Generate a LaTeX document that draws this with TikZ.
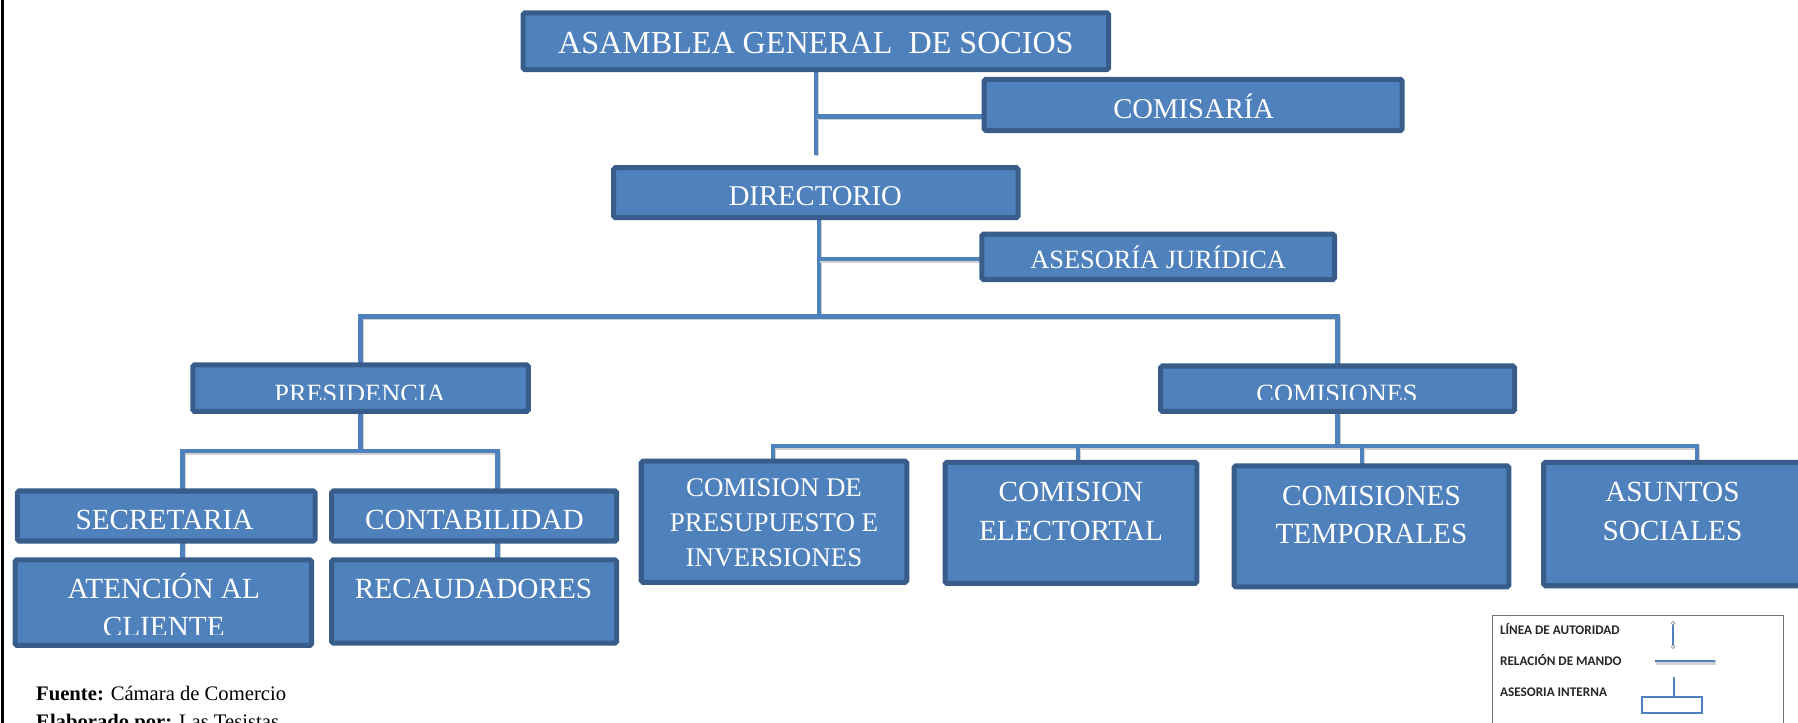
\documentclass[tikz,border=0pt]{standalone}
\usepackage{fontspec}
\setmainfont{Liberation Serif}
\newfontfamily\legfont{Carlito}
\usetikzlibrary{calc}
\definecolor{boxfill}{HTML}{4F81BD}
\definecolor{boxline}{HTML}{385D8A}
\definecolor{linkblue}{HTML}{4F81BD}
\pgfdeclarelayer{bg}
\pgfsetlayers{bg,main}
\begin{document}
\begin{tikzpicture}[x=1pt,y=-1pt,
  orgbox/.style={draw=boxline, fill=boxfill, line width=4.4pt, rounded corners=1.5pt, inner sep=0pt, outer sep=0pt},
  lbl/.style={text=white, inner sep=0pt, anchor=base, font=\fontsize{25.5}{28}\selectfont},
  link/.style={draw=linkblue, line width=3.8pt, preaction={draw=black!18, line width=3.8pt, transform canvas={xshift=0.9pt,yshift=-1.3pt}}},
  legtext/.style={anchor=base west, inner sep=0pt, text=black!85, font=\legfont\bfseries\fontsize{11.5}{13}\selectfont},
  foot/.style={anchor=base west, inner sep=0pt, font=\fontsize{18}{20}\selectfont}]
\useasboundingbox (0,0) rectangle (1568,630.5);

% left border
\draw[line width=2.2pt] (2.3,0) -- (2.3,630.5);

% boxes
\node[orgbox, minimum width=510.6pt, minimum height=49.6pt] (asamblea) at (711.5,36) {};
\node[orgbox, minimum width=364.6pt, minimum height=44.6pt] (comisaria) at (1040.5,91.5) {};
\node[orgbox, minimum width=352.6pt, minimum height=43.6pt] (directorio) at (711.5,168) {};
\node[orgbox, minimum width=307.6pt, minimum height=39.6pt] (asesoria) at (1010,224) {};
\node[orgbox, minimum width=292.6pt, minimum height=40.6pt] (presidencia) at (314.5,338.5) {};
\node[orgbox, minimum width=308.6pt, minimum height=39.6pt] (comisiones) at (1166.5,339) {};
\node[orgbox, minimum width=259.6pt, minimum height=43.6pt] (secretaria) at (145,450) {};
\node[orgbox, minimum width=248.6pt, minimum height=43.6pt] (contabilidad) at (413.5,450) {};
\node[orgbox, minimum width=258.6pt, minimum height=74.6pt] (atencion) at (142.5,525.5) {};
\node[orgbox, minimum width=248.6pt, minimum height=72.6pt] (recaudadores) at (413.5,524.5) {};
\node[orgbox, minimum width=231.6pt, minimum height=105.6pt] (presupuesto) at (675,455) {};
\node[orgbox, minimum width=219.6pt, minimum height=105.6pt] (electoral) at (934,456) {};
\node[orgbox, minimum width=239.6pt, minimum height=105.6pt] (temporales) at (1196,459) {};
\node[orgbox, minimum width=224.6pt, minimum height=107.6pt] (asuntos) at (1458.5,457) {};

% texts
\node[lbl, font=\fontsize{28}{30}\selectfont] (t-asamblea) at (711.5,46.5) {ASAMBLEA GENERAL~~DE SOCIOS};
\node[lbl, font=\fontsize{25}{28}\selectfont] (t-comisaria) at (1041,103) {COMISARÍA};
\node[lbl, font=\fontsize{25}{28}\selectfont] (t-directorio) at (711,179) {DIRECTORIO};
\node[lbl, font=\fontsize{23}{26}\selectfont] (t-asesoria) at (1010,234) {ASESORÍA JURÍDICA};
\begin{scope}
  \clip (166,300) rectangle (463,348.5);
  \node[lbl, font=\fontsize{23}{26}\selectfont] (t-presidencia) at (314,351) {PRESIDENCIA};
\end{scope}
\begin{scope}
  \clip (1010,300) rectangle (1323,348.5);
  \node[lbl, font=\fontsize{23}{26}\selectfont] (t-comisiones) at (1166,351) {COMISIONES};
\end{scope}
\node[lbl] (t-secretaria) at (143.5,462) {SECRETARIA};
\node[lbl] (t-contabilidad) at (413.7,462) {CONTABILIDAD};
\begin{scope}
  \clip (11,480) rectangle (274,553);
  \node[lbl] (t-atencion1) at (142.8,522) {ATENCIÓN AL};
  \node[lbl] (t-atencion2) at (142.8,555) {CLIENTE};
\end{scope}
\node[lbl] (t-recaudadores) at (413,522) {RECAUDADORES};
\node[lbl, font=\fontsize{23.5}{26}\selectfont] (t-presupuesto1) at (675,433) {COMISION DE};
\node[lbl, font=\fontsize{23.5}{26}\selectfont] (t-presupuesto2) at (675,463.7) {PRESUPUESTO E};
\node[lbl, font=\fontsize{23.5}{26}\selectfont] (t-presupuesto3) at (675,494) {INVERSIONES};
\node[lbl] (t-electoral1) at (934,437.5) {COMISION};
\node[lbl] (t-electoral2) at (934,471) {ELECTORTAL};
\node[lbl] (t-temporales1) at (1196,440.4) {COMISIONES};
\node[lbl] (t-temporales2) at (1196,473.6) {TEMPORALES};
\node[lbl] (t-asuntos1) at (1458.5,437.5) {ASUNTOS};
\node[lbl] (t-asuntos2) at (1458.5,471) {SOCIALES};

% connectors
\begin{pgfonlayer}{bg}
  \coordinate (j1) at (711.5,101.5);
  \coordinate (g1) at (711.5,135);
  \draw[link] (asamblea.south) -- (g1);
  \draw[link] (j1) -- (j1 -| comisaria.west);
  \coordinate (d1) at ($(directorio.south)+(2.5,0)$);
  \coordinate (j2) at (714,226);
  \coordinate (j3) at (714,276);
  \draw[link] (d1) -- (j3);
  \draw[link] (j2) -- (j2 -| asesoria.west);
  \draw[link] (presidencia.north) |- (j3) -| (comisiones.north);
  \coordinate (b2l) at (159,393.5);
  \coordinate (b2r) at (434,393.5);
  \draw[link] (presidencia.south) -- (presidencia.south |- b2l);
  \draw[link] (b2l |- secretaria.north) -- (b2l) -- (b2r) -- (b2r |- contabilidad.north);
  \draw[link] (b2l |- secretaria.south) -- (b2l |- atencion.north);
  \draw[link] (b2r |- contabilidad.south) -- (b2r |- recaudadores.north);
  \coordinate (c1) at (674,389);
  \coordinate (c2) at (940,389);
  \coordinate (c3) at (1188,389);
  \coordinate (c4) at (1480,389);
  \draw[link] (comisiones.south) -- (comisiones.south |- c1);
  \draw[link] (c1 |- presupuesto.north) -- (c1) -- (c4) -- (c4 |- asuntos.north);
  \draw[link] (c2) -- (c2 |- electoral.north);
  \draw[link] (c3) -- (c3 |- temporales.north);
\end{pgfonlayer}

% legend
\draw[black!55, line width=0.8pt] (1301.7,537) rectangle (1555,650);
\node[legtext] (l-autoridad) at (1308,553) {LÍNEA DE AUTORIDAD};
\node[legtext] (l-mando) at (1308,580.5) {RELACIÓN DE MANDO};
\node[legtext] (l-asesoria) at (1308,607) {ASESORIA INTERNA};
\draw[linkblue, line width=1.6pt] (1459,543.5) -- (1459,564);
\draw[black!45, fill=white, line width=0.5pt] (1459,543.5) circle (1.6pt) (1459,564) circle (1.6pt);
\draw[link, line width=1.8pt, preaction={draw=black!18, line width=1.8pt, transform canvas={yshift=-0.9pt}}] (1443,576.5) -- (1496,576.5);
\draw[linkblue, line width=1.8pt] (1460,590) -- (1460,607.5);
\draw[linkblue, line width=1.8pt, fill=white] (1431.6,607.5) rectangle (1484.5,621.5);

% footer
\node[foot] (f-fuente) at (31.4,611) {\textbf{Fuente:} Cámara de Comercio};
\node[foot] (f-elab) at (31.4,635) {\textbf{Elaborado por:} Las Tesistas};
\end{tikzpicture}
\end{document}
